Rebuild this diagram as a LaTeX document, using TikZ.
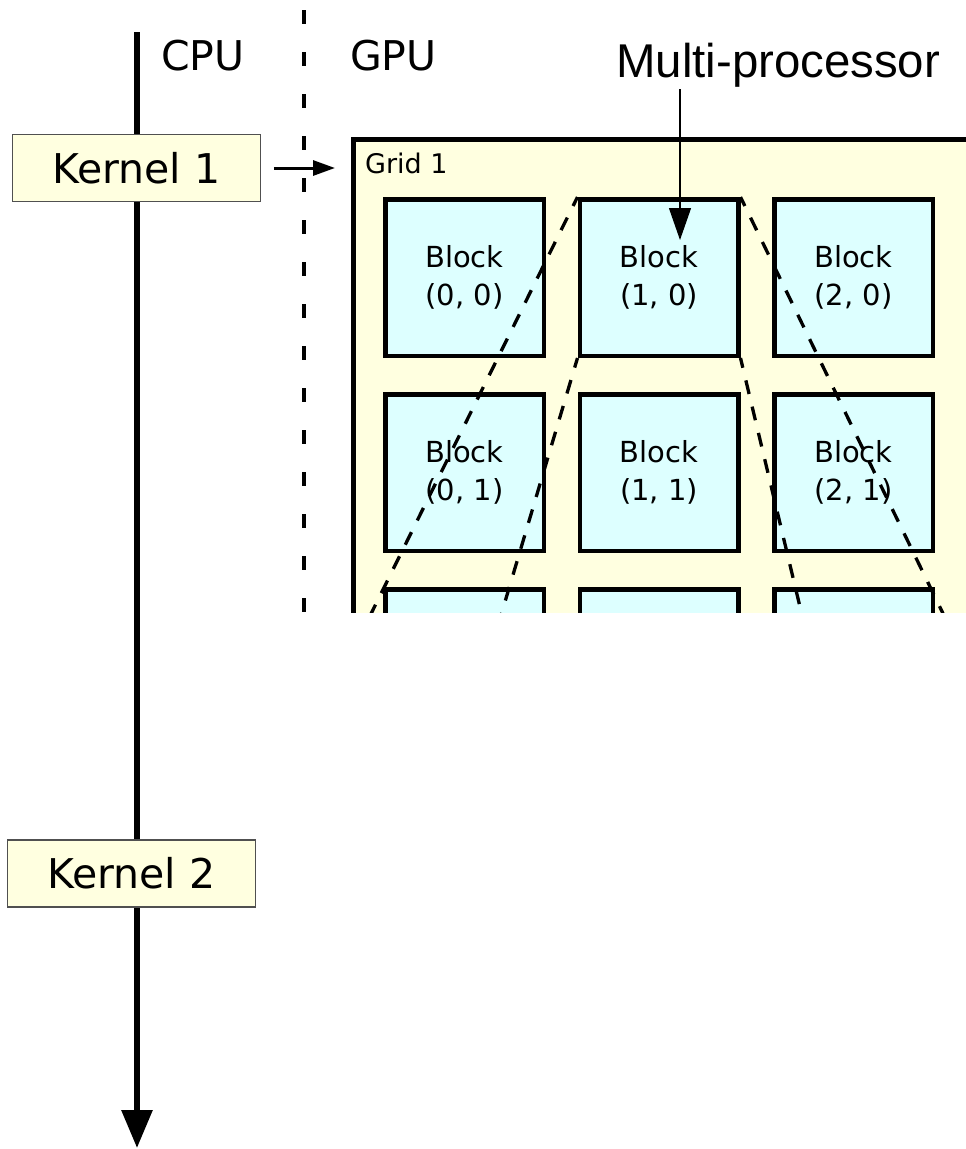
\documentclass[tikz,border=0pt]{standalone}
\usepackage{fontspec}
\setmainfont{DejaVu Sans}
\newfontfamily\labelfont{Liberation Sans}
\usetikzlibrary{arrows.meta}
\definecolor{gridfill}{RGB}{255,255,224}
\definecolor{blockfill}{RGB}{221,255,255}
\definecolor{kernelfill}{RGB}{255,255,224}
\definecolor{kernelline}{RGB}{80,80,80}

\begin{document}
\begin{tikzpicture}[x=1pt,y=-1pt,
  kernelbox/.style={draw=kernelline, line width=1.5pt, fill=kernelfill,
    minimum width=248pt, minimum height=67pt, inner sep=0pt,
    font=\fontsize{41}{49}\selectfont},
  blockbox/.style={draw, line width=4.5pt, fill=blockfill,
    minimum width=158.5pt, minimum height=156.5pt, inner sep=0pt,
    align=center, font=\fontsize{29}{38}\selectfont},
  gridbox/.style={draw, line width=5pt, fill=gridfill, anchor=north west,
    minimum width=800pt, minimum height=700pt, inner sep=0pt},
  sidelabel/.style={anchor=base west, inner sep=0pt,
    font=\fontsize{41}{49}\selectfont},
  fanline/.style={line width=3.3pt, dash pattern=on 14pt off 13pt, dash phase=4pt},
  ]
\useasboundingbox (0,0) rectangle (966,1149);

% CPU time axis
\coordinate (axtop) at (137,32);
\coordinate (axend) at (137,1148);
\draw[line width=6pt, -{Triangle[length=38pt,width=30pt]}] (axtop) -- (axend);

% kernels launched on the CPU side
\node[kernelbox] (k1) at (136.5,168) {Kernel 1};
\node[kernelbox] (k2) at (131.5,873.5) {Kernel 2};

% column headings
\node[sidelabel] (cpu) at (161,70) {CPU};
\node[sidelabel] (gpu) at (350,70) {GPU};

% GPU side, cut off at the bottom
\begin{scope}
  \clip (280,0) rectangle (966,612);
  \coordinate (divtop) at (304,10);
  \coordinate (divend) at (304,700);
  \draw[line width=4pt, dash pattern=on 14pt off 28pt] (divtop) -- (divend);

  \node[gridbox] (grid) at (350.5,136.5) {};
  \node[anchor=base west, inner sep=0pt, font=\fontsize{27}{32}\selectfont]
    (gridlabel) at (365,173) {Grid 1};

  \foreach \c in {0,1,2}
    \foreach \r in {0,1,2}
      \node[blockbox] (b\c\r) at ({464.5+194.5*\c},{277.5+195*\r}) {Block\\(\c, \r)};

  % fan-out of the multiprocessor
  \coordinate (f1) at (362,632);
  \coordinate (f2) at (496,632);
  \coordinate (f3) at (952,632);
  \coordinate (f4) at (806,632);
  \draw[fanline] (b10.north west) -- (f1);
  \draw[fanline] (b10.south west) -- (f2);
  \draw[fanline] (b10.north east) -- (f3);
  \draw[fanline] (b10.south east) -- (f4);
\end{scope}

% launch arrow
\draw[line width=3pt, -{Triangle[length=22pt,width=15pt]},
  shorten <=12.5pt, shorten >=15.5pt] (k1.east) -- (k1.east -| grid.west);

% multiprocessor label and pointer
\node[anchor=base west, inner sep=0pt, font=\labelfont\fontsize{47.4}{56}\selectfont]
  (mp) at (616,77) {Multi-processor};
\coordinate (mptip) at (680,240);
\draw[line width=1.2pt, -{Triangle[length=32pt,width=22pt]}, shorten <=2pt]
  (mptip |- mp.south) -- (mptip);
\end{tikzpicture}
\end{document}
